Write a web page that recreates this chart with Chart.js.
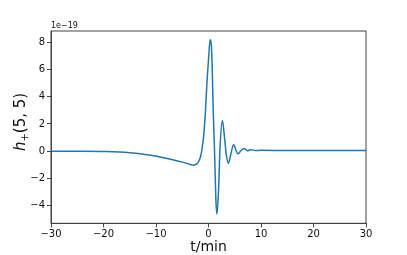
<!DOCTYPE html>
<html>
<head>
<meta charset="UTF-8">
<title>h+(5,5)</title>
<style>
  html, body { margin: 0; padding: 0; background: #fff; }
  #wrap { width: 407px; height: 255px; }
</style>
<script src="https://cdn.jsdelivr.net/npm/chart.js"></script>
</head>
<body>
<div id="wrap"><canvas id="chart" width="407" height="255"></canvas></div>
<script>
  // time in minutes, strain in units of 1e-19
  const tMin = [-30, -25, -20, -17, -15, -13, -11, -9, -7, -5, -4, -3.4, -2.8, -2.3, -1.9, -1.5, -1.2, -0.9, -0.6, -0.3, 0, 0.3, 0.6, 0.9, 1.15, 1.4, 1.6, 1.9, 2.2, 2.65, 3.0, 3.4, 3.8, 4.2, 4.8, 5.2, 5.6, 6.2, 6.8, 7.4, 8, 9, 10, 15, 20, 30];
  const hPlus = [0.0, -0.01, -0.03, -0.06, -0.11, -0.19, -0.31, -0.45, -0.62, -0.81, -0.92, -0.99, -1.03, -0.96, -0.78, -0.38, 0.25, 1.2, 2.8, 5.0, 6.7, 8.2, 7.4, 3.0, 0.0, -3.5, -4.63, -3.0, 0.3, 2.25, 1.2, -0.3, -0.9, -0.3, 0.49, 0.1, -0.2, 0.05, 0.2, 0.03, 0.1, 0.05, 0.06, 0.05, 0.05, 0.05];
  const xTicks = [-30, -20, -10, 0, 10, 20, 30];
  const yTicks = [-4, -2, 0, 2, 4, 6, 8];

  const minus = v => String(v).replace('-', '\u2212');
  const FONT = 'DejaVu Sans';

  // spines on top/right, axis labels and offset text
  const decor = {
    id: 'decor',
    afterDraw(chart) {
      const { ctx, chartArea: a } = chart;
      ctx.save();
      ctx.strokeStyle = '#444';
      ctx.lineWidth = 1;
      ctx.strokeRect(a.left, a.top, a.right - a.left, a.bottom - a.top);

      ctx.fillStyle = '#111';
      ctx.font = '8px ' + FONT;
      ctx.textAlign = 'left';
      ctx.textBaseline = 'bottom';
      ctx.fillText('1e\u221219', a.left, a.top - 1);

      ctx.font = '14px ' + FONT;
      ctx.textAlign = 'center';
      ctx.textBaseline = 'middle';
      ctx.fillText('t/min', (a.left + a.right) / 2, 247);

      // y label: italic h, subscript +, then (5, 5)
      ctx.translate(20, 122);
      ctx.rotate(-Math.PI / 2);
      ctx.textAlign = 'left';
      ctx.textBaseline = 'alphabetic';
      const parts = [
        { t: 'h', f: 'italic 15px ' + FONT, dy: 0 },
        { t: '+', f: '10px ' + FONT, dy: 3 },
        { t: '(5, 5)', f: '15px ' + FONT, dy: 0 }
      ];
      let w = 0;
      parts.forEach(p => { ctx.font = p.f; w += ctx.measureText(p.t).width; });
      let x = -w / 2;
      parts.forEach(p => {
        ctx.font = p.f;
        ctx.fillText(p.t, x, 5 + p.dy);
        x += ctx.measureText(p.t).width;
      });
      ctx.restore();
    }
  };

  new Chart(document.getElementById('chart'), {
    type: 'line',
    data: {
      datasets: [{
        data: tMin.map((t, i) => ({ x: t, y: hPlus[i] })),
        borderColor: '#1f77b4',
        borderWidth: 1.5,
        pointRadius: 0,
        fill: false,
        cubicInterpolationMode: 'monotone'
      }]
    },
    options: {
      responsive: false,
      animation: false,
      layout: { padding: { left: 0, top: 31, right: 41, bottom: 0 } },
      plugins: { legend: { display: false }, tooltip: { enabled: false } },
      scales: {
        x: {
          type: 'linear', min: -30, max: 30,
          afterBuildTicks: s => { s.ticks = xTicks.map(v => ({ value: v })); },
          afterFit: s => { s.height = 31.7; },
          grid: { drawOnChartArea: false, drawTicks: true, tickLength: 4, color: '#444' },
          border: { color: '#444' },
          ticks: { color: '#111', padding: 1, maxRotation: 0, font: { family: FONT, size: 10 }, callback: v => minus(v) }
        },
        y: {
          type: 'linear', min: -5.31, max: 8.84,
          afterBuildTicks: s => { s.ticks = yTicks.map(v => ({ value: v })); },
          afterFit: s => { s.width = 51; },
          grid: { drawOnChartArea: false, drawTicks: true, tickLength: 4, color: '#444' },
          border: { color: '#444' },
          ticks: { color: '#111', padding: 2, font: { family: FONT, size: 10 }, callback: v => minus(v) }
        }
      }
    },
    plugins: [decor]
  });
</script>
</body>
</html>
